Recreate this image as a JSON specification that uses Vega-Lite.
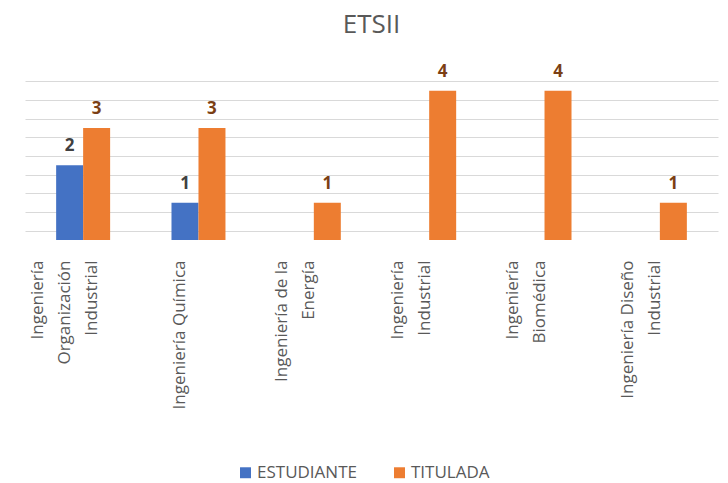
{
  "$schema": "https://vega.github.io/schema/vega-lite/v6.json",
  "width": 693,
  "height": 168,
  "autosize": {"type": "none"},
  "padding": {"left": 25, "top": 72, "right": 10, "bottom": 243},
  "background": "white",
  "title": {"text": "ETSII", "fontSize": 26, "font": "Open Sans", "fontWeight": "normal", "color": "#595959", "offset": 25, "anchor": "middle", "frame": "group"},
  "data": {"values": [
    {"carrera": "Ingeniería Organización Industrial", "serie": "ESTUDIANTE", "valor": 2},
    {"carrera": "Ingeniería Organización Industrial", "serie": "TITULADA", "valor": 3},
    {"carrera": "Ingeniería Química", "serie": "ESTUDIANTE", "valor": 1},
    {"carrera": "Ingeniería Química", "serie": "TITULADA", "valor": 3},
    {"carrera": "Ingeniería de la Energía", "serie": "TITULADA", "valor": 1},
    {"carrera": "Ingeniería Industrial", "serie": "TITULADA", "valor": 4},
    {"carrera": "Ingeniería Biomédica", "serie": "TITULADA", "valor": 4},
    {"carrera": "Ingeniería Diseño Industrial", "serie": "TITULADA", "valor": 1}
  ]},
  "encoding": {
    "x": {
      "field": "carrera", "type": "nominal", "sort": null,
      "scale": {"paddingInner": 0.532, "paddingOuter": 0.27},
      "axis": {
        "title": null, "labelAngle": -90, "labelPadding": 20,
        "labelOffset": {"condition": [{"test": "datum.value == 'Ingeniería Organización Industrial'", "value": -45}, {"test": "datum.value == 'Ingeniería Química'", "value": -18}], "value": -31.5},
        "labelFont": "Open Sans", "labelFontSize": 17, "labelColor": "#595959",
        "labelLineHeight": 27, "labelLimit": 400, "labelOverlap": false,
        "ticks": false, "domain": false,
        "labelExpr": "datum.value == 'Ingeniería Organización Industrial' ? ['Ingeniería','Organización','Industrial'] : datum.value == 'Ingeniería de la Energía' ? ['Ingeniería de la','Energía'] : datum.value == 'Ingeniería Industrial' ? ['Ingeniería','Industrial'] : datum.value == 'Ingeniería Biomédica' ? ['Ingeniería','Biomédica'] : datum.value == 'Ingeniería Diseño Industrial' ? ['Ingeniería Diseño','Industrial'] : datum.value"
      }
    },
    "xOffset": {"field": "serie", "type": "nominal", "scale": {"domain": ["ESTUDIANTE", "TITULADA"]}},
    "y": {
      "field": "valor", "type": "quantitative",
      "scale": {"domain": [0, 4.5], "nice": false},
      "axis": {"values": [0.25, 0.75, 1.25, 1.75, 2.25, 2.75, 3.25, 3.75, 4.25], "labels": false, "ticks": false, "domain": false, "title": null, "grid": true, "gridColor": "#d9d9d9", "gridWidth": 1}
    }
  },
  "layer": [
    {
      "mark": {"type": "bar"},
      "encoding": {
        "color": {
          "field": "serie", "type": "nominal",
          "scale": {"domain": ["ESTUDIANTE", "TITULADA"], "range": ["#4472C4", "#ED7D31"]},
          "legend": {
            "orient": "none", "legendX": 212, "legendY": 392, "direction": "horizontal",
            "title": null, "symbolType": "square", "symbolSize": 120, "symbolStrokeWidth": 0,
            "labelFont": "Open Sans", "labelFontSize": 17, "labelColor": "#595959",
            "columnPadding": 34, "labelOffset": 3, "padding": 0
          }
        }
      }
    },
    {
      "mark": {"type": "text", "baseline": "bottom", "dy": -10, "font": "Open Sans", "fontWeight": "bold", "fontSize": 17},
      "encoding": {
        "text": {"field": "valor", "type": "quantitative"},
        "color": {
          "field": "serie", "type": "nominal",
          "scale": {"domain": ["ESTUDIANTE", "TITULADA"], "range": ["#404040", "#7B3F14"]},
          "legend": null
        }
      }
    }
  ],
  "resolve": {"scale": {"color": "independent"}},
  "config": {"view": {"stroke": null}}
}
